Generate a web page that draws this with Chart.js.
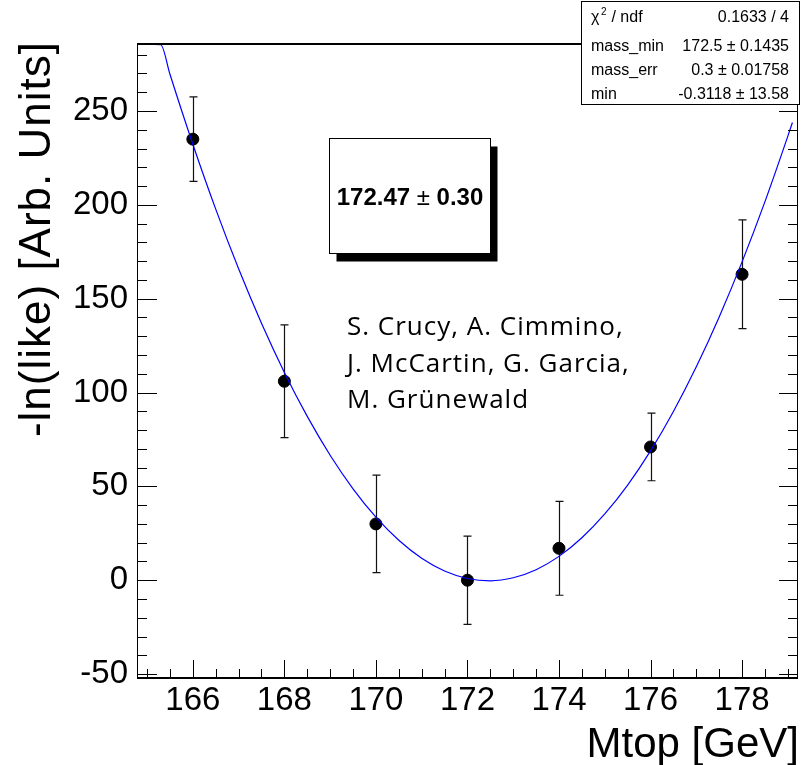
<!DOCTYPE html>
<html>
<head>
<meta charset="utf-8">
<script src="https://cdn.jsdelivr.net/npm/chart.js@4.4.1/dist/chart.umd.min.js"></script>
<style>
  html, body { margin: 0; padding: 0; background: #fff; }
  canvas { display: block; }
</style>
</head>
<body>
<canvas id="likeChart" width="804" height="765"></canvas>
<script>
// Measured points: top mass vs -ln(likelihood)
const massPoints = [166, 168, 170, 172, 174, 176, 178];
const nllValues = [235, 106, 30, 0, 17, 71, 163];
const nllErrors = [22.5, 30, 26, 23.5, 25, 18, 29];

// Fitted parabola
const fitMass = [165.15, 165.3, 165.5, 166, 166.5, 167, 167.5, 168, 168.5, 169, 169.5, 170, 170.5,
    171, 171.5, 172, 172.5, 173, 173.5, 174, 174.5, 175, 175.5, 176, 176.5, 177, 177.5,
    178, 178.5, 179, 179.1];
const fitValues = [285.5, 285.3, 269.6, 232.3, 197.7, 165.9, 136.9, 110.7, 87.3, 66.6, 48.7, 33.6, 21.3,
    11.7, 4.9, 0.9, -0.3, 1.3, 5.6, 12.7, 22.6, 35.3, 50.7, 68.9, 89.9, 113.7, 140.3,
    169.6, 201.7, 236.6, 243.9];

const xTickValues = [166, 168, 170, 172, 174, 176, 178];
const yTickValues = [-50, 0, 50, 100, 150, 200, 250];

// Fit result box
const statLabels = ['mass_min', 'mass_err', 'min'];
const statValues = ['172.5 \u00b1 0.1435', '0.3 \u00b1 0.01758', '-0.3118 \u00b1 13.58'];
const chi2Text = '0.1633 / 4';
const resultText = ['172.47', ' \u00b1 ', '0.30'];
const credits = ['S. Crucy, A. Cimmino,', 'J. McCartin, G. Garcia,', 'M. Gr\u00fcnewald'];

const HELV = '"Liberation Sans", Arial, Helvetica, sans-serif';

const rootDecor = {
    id: 'rootDecor',
    beforeDatasetDraw(chart, args) {
        if (args.index !== 1) return;
        const { ctx, scales: { x, y } } = chart;
        ctx.save();
        ctx.strokeStyle = '#111';
        ctx.lineWidth = 1.2;
        massPoints.forEach((m, i) => {
            const px = Math.round(x.getPixelForValue(m)) + 0.5;
            const top = y.getPixelForValue(nllValues[i] + nllErrors[i]);
            const bot = y.getPixelForValue(nllValues[i] - nllErrors[i]);
            ctx.beginPath();
            ctx.moveTo(px, top); ctx.lineTo(px, bot);
            ctx.moveTo(px - 4, top); ctx.lineTo(px + 4, top);
            ctx.moveTo(px - 4, bot); ctx.lineTo(px + 4, bot);
            ctx.stroke();
        });
        ctx.restore();
    },
    afterDraw(chart) {
        const { ctx, chartArea: a, scales: { x, y } } = chart;
        ctx.save();

        // tick marks (inside the frame)
        ctx.strokeStyle = '#000';
        ctx.lineWidth = 1;
        ctx.beginPath();
        for (let v = -50; v <= 280; v += 10) {
            const py = Math.round(y.getPixelForValue(v)) + 0.5;
            const major = v % 50 === 0;
            ctx.moveTo(a.left, py); ctx.lineTo(a.left + (major ? 20 : 10), py);
            ctx.moveTo(a.right, py); ctx.lineTo(a.right - (major ? 18 : 9), py);
        }
        for (let v = 165; v <= 179; v += 0.5) {
            const px = Math.round(x.getPixelForValue(v)) + 0.5;
            const major = v % 2 === 0;
            ctx.moveTo(px, a.bottom); ctx.lineTo(px, a.bottom - (major ? 18 : 9));
        }
        ctx.stroke();

        // frame
        ctx.beginPath();
        ctx.moveTo(a.left + 0.5, a.top); ctx.lineTo(a.left + 0.5, a.bottom);
        ctx.moveTo(a.right + 0.5, a.top); ctx.lineTo(a.right + 0.5, a.bottom);
        ctx.stroke();
        ctx.lineWidth = 2;
        ctx.beginPath();
        ctx.moveTo(a.left, a.top); ctx.lineTo(a.right + 1, a.top);
        ctx.moveTo(a.left, a.bottom); ctx.lineTo(a.right + 1, a.bottom);
        ctx.stroke();

        // axis titles
        ctx.fillStyle = '#000';
        ctx.font = '42px ' + HELV;
        ctx.textAlign = 'right';
        ctx.textBaseline = 'alphabetic';
        ctx.fillText('Mtop [GeV]', 799, 757);

        ctx.save();
        ctx.translate(50, 41);
        ctx.rotate(-Math.PI / 2);
        ctx.font = '44px ' + HELV;
        ctx.letterSpacing = '1px';
        ctx.fillText('-ln(like) [Arb. Units]', 0, 0);
        ctx.restore();

        // stats box
        ctx.fillStyle = '#fff';
        ctx.fillRect(581.5, 1.5, 218, 103);
        ctx.strokeStyle = '#000';
        ctx.lineWidth = 1;
        ctx.strokeRect(581.5, 1.5, 218, 103);
        ctx.fillStyle = '#000';
        ctx.font = '16px ' + HELV;
        ctx.textAlign = 'left';
        ctx.fillText('\u03c7', 591, 22);
        ctx.font = '10px ' + HELV;
        ctx.fillText('2', 601, 15);
        ctx.font = '16px ' + HELV;
        ctx.fillText(' / ndf', 607, 22);
        ctx.textAlign = 'right';
        ctx.fillText(chi2Text, 789, 22);
        const rows = [51, 75, 99];
        statLabels.forEach((lab, i) => {
            ctx.textAlign = 'left';
            ctx.fillText(lab, 591, rows[i]);
            ctx.textAlign = 'right';
            ctx.fillText(statValues[i], 789, rows[i]);
        });

        // result box with shadow
        const bx = 329.5, by = 138.5, bw = 161, bh = 115;
        ctx.fillStyle = '#000';
        ctx.fillRect(bx + 7, by + 8, bw, bh);
        ctx.fillStyle = '#fff';
        ctx.fillRect(bx, by, bw, bh);
        ctx.strokeStyle = '#000';
        ctx.strokeRect(bx, by, bw, bh);
        ctx.fillStyle = '#000';
        ctx.textAlign = 'left';
        const fonts = ['bold 24px ' + HELV, '24px ' + HELV, 'bold 24px ' + HELV];
        let total = 0;
        resultText.forEach((t, i) => { ctx.font = fonts[i]; total += ctx.measureText(t).width; });
        let tx = bx + bw / 2 - total / 2;
        resultText.forEach((t, i) => {
            ctx.font = fonts[i];
            ctx.fillText(t, tx, 205);
            tx += ctx.measureText(t).width;
        });

        // credits
        ctx.font = '26px "Open Sans", Lato, sans-serif';
        ctx.letterSpacing = '1px';
        [335, 371.5, 408].forEach((yy, i) => ctx.fillText(credits[i], 347, yy));

        ctx.restore();
    }
};

new Chart(document.getElementById('likeChart'), {
    type: 'scatter',
    data: {
        datasets: [
            {
                type: 'line',
                data: fitMass.map((m, i) => ({ x: m, y: fitValues[i] })),
                borderColor: '#0000ff',
                borderWidth: 1.2,
                pointRadius: 0,
                fill: false,
                cubicInterpolationMode: 'monotone'
            },
            {
                data: massPoints.map((m, i) => ({ x: m, y: nllValues[i] })),
                backgroundColor: '#000',
                borderColor: '#000',
                pointRadius: 6,
                pointHoverRadius: 6
            }
        ]
    },
    options: {
        responsive: false,
        animation: false,
        devicePixelRatio: 1,
        layout: { padding: { top: 44, right: 4, left: 0, bottom: 0 } },
        plugins: { legend: { display: false }, tooltip: { enabled: false } },
        scales: {
            x: {
                type: 'linear',
                min: 164.78,
                max: 179.2,
                afterBuildTicks: s => { s.ticks = xTickValues.map(v => ({ value: v })); },
                afterFit: s => { s.height = 87; },
                grid: { display: false, drawTicks: false },
                border: { display: false },
                ticks: { color: '#000', padding: 3, maxRotation: 0, font: { size: 33, family: HELV } }
            },
            y: {
                type: 'linear',
                min: -52.1,
                max: 285.7,
                afterBuildTicks: s => { s.ticks = yTickValues.map(v => ({ value: v })); },
                afterFit: s => { s.width = 137; },
                grid: { display: false, drawTicks: false },
                border: { display: false },
                ticks: { color: '#000', padding: 9, font: { size: 33, family: HELV } }
            }
        }
    },
    plugins: [rootDecor]
});
</script>
</body>
</html>
